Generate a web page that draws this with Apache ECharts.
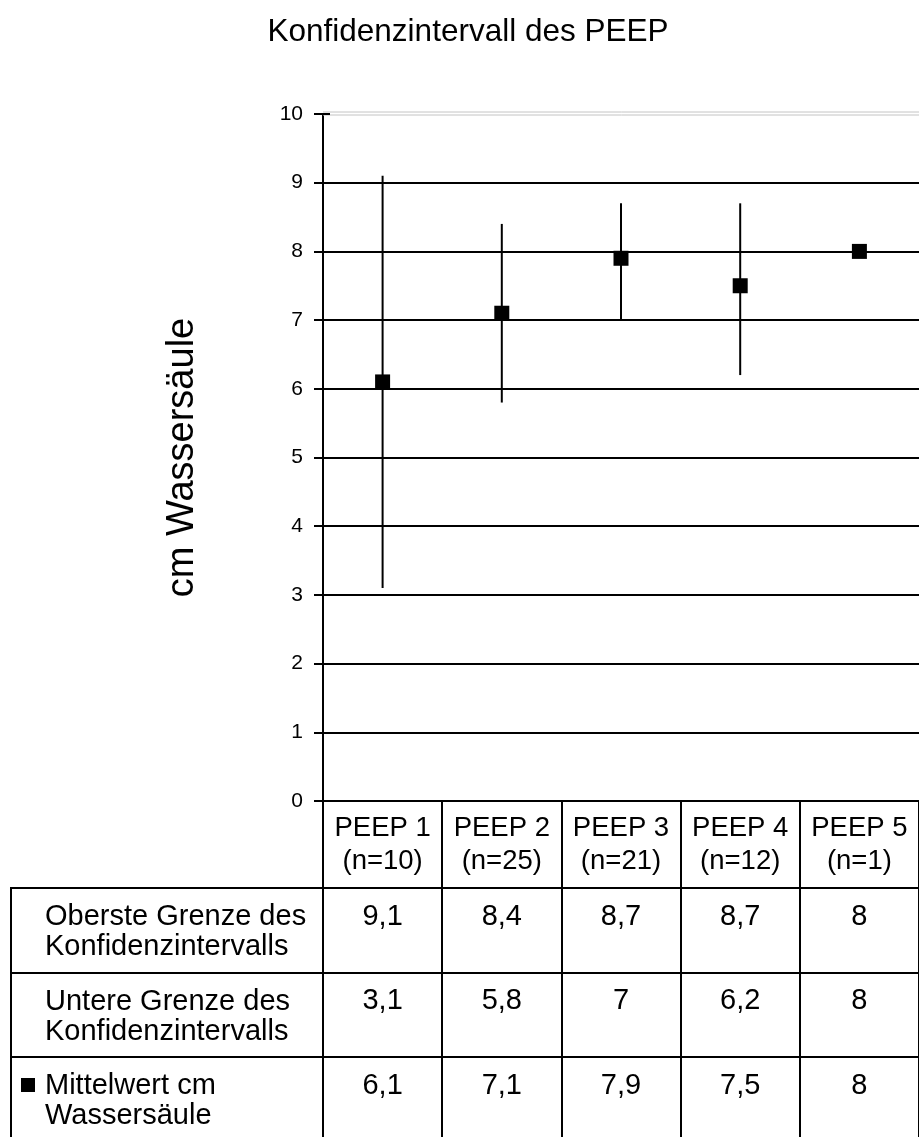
<!DOCTYPE html>
<html>
<head>
<meta charset="utf-8">
<script src="https://cdn.jsdelivr.net/npm/echarts@6/dist/echarts.min.js"></script>
<style>
  html, body { margin: 0; padding: 0; background: #fff; }
  #chart { width: 919px; height: 1137px; }
</style>
</head>
<body>
<div id="chart"></div>
<script>
// PEEP groups and sample sizes
const categories = ['PEEP 1', 'PEEP 2', 'PEEP 3', 'PEEP 4', 'PEEP 5'];
const sampleSizes = [10, 25, 21, 12, 1];

// Confidence interval bounds and means (cm H2O)
const upperBound = [9.1, 8.4, 8.7, 8.7, 8];
const lowerBound = [3.1, 5.8, 7, 6.2, 8];
const meanValues = [6.1, 7.1, 7.9, 7.5, 8];

// Y axis ticks
const yTicks = [0, 1, 2, 3, 4, 5, 6, 7, 8, 9, 10];

// Data table rows
const tableRows = [
  { label: 'Oberste Grenze des\nKonfidenzintervalls', values: upperBound, key: false },
  { label: 'Untere Grenze des\nKonfidenzintervalls', values: lowerBound, key: false },
  { label: 'Mittelwert cm\nWassersäule', values: meanValues, key: true }
];

const FONT = '"Liberation Sans", Arial, sans-serif';
const fmt = v => String(v).replace('.', ',');

const chart = echarts.init(document.getElementById('chart'), null, { renderer: 'canvas' });

const gridTop = 114, gridHeight = 687, gridLeft = 323, gridWidth = 600;
const tableTop = 888, rowHeight = 84.5, tableLeft = 10;

const splitColors = yTicks.map((t, i) => i === yTicks.length - 1 ? 'rgba(0,0,0,0)' : '#000');

chart.setOption({
  animation: false,
  backgroundColor: '#fff',
  textStyle: { fontFamily: FONT, color: '#000' },
  title: {
    text: 'Konfidenzintervall des PEEP',
    left: 463,
    textAlign: 'center',
    top: 11,
    textStyle: { fontFamily: FONT, fontSize: 31.5, fontWeight: 'normal', color: '#000' }
  },
  grid: { left: gridLeft, top: gridTop, width: gridWidth, height: gridHeight, containLabel: false },
  xAxis: {
    type: 'category',
    data: categories.map((c, i) => c + '\n(n=' + sampleSizes[i] + ')'),
    boundaryGap: true,
    axisLine: { lineStyle: { color: '#000', width: 2 } },
    axisTick: { show: true, interval: 0, alignWithLabel: false, length: 1137 - (gridTop + gridHeight) + 10,
                lineStyle: { color: '#000', width: 2 } },
    axisLabel: { interval: 0, fontFamily: FONT, fontSize: 27.5, lineHeight: 33, color: '#000', margin: 11 },
    splitLine: { show: false }
  },
  yAxis: {
    type: 'value',
    min: 0, max: 10, interval: 1,
    name: 'cm Wassersäule',
    nameLocation: 'middle',
    nameGap: 121,
    nameRotate: 90,
    nameTextStyle: { fontFamily: FONT, fontSize: 38, color: '#000' },
    axisLine: { show: true, lineStyle: { color: '#000', width: 2 } },
    axisTick: { show: true, length: 9, lineStyle: { color: '#000', width: 2 } },
    axisLabel: { fontFamily: FONT, fontSize: 21, color: '#000', margin: 20 },
    splitLine: { show: true, lineStyle: { color: splitColors, width: 2 } }
  },
  series: [
    {
      type: 'custom',
      name: 'Konfidenzintervall',
      data: categories.map((c, i) => [i, lowerBound[i], upperBound[i]]),
      encode: { x: 0, y: [1, 2] },
      z: 3,
      renderItem: function (params, api) {
        const lo = api.coord([api.value(0), api.value(1)]);
        const hi = api.coord([api.value(0), api.value(2)]);
        return {
          type: 'line',
          shape: { x1: lo[0], y1: lo[1], x2: hi[0], y2: hi[1] },
          style: { stroke: '#000', lineWidth: 2 }
        };
      }
    },
    {
      type: 'scatter',
      name: 'Mittelwert cm Wassersäule',
      data: meanValues,
      symbol: 'rect',
      symbolSize: 15,
      z: 4,
      itemStyle: { color: '#000', opacity: 1 }
    }
  ]
});

// Upper plot border, data table lines and text
function buildGraphics() {
  const g = [];
  const yTop = chart.convertToPixel({ yAxisIndex: 0 }, 10);
  const xRight = gridLeft + gridWidth;
  [yTop - 2, yTop + 1].forEach(y => g.push({
    type: 'line', shape: { x1: gridLeft, y1: y, x2: xRight, y2: y },
    style: { stroke: '#c4c4c4', lineWidth: 1 }, z: 5
  }));
  // tick at the top crosses the axis
  g.push({ type: 'line', shape: { x1: gridLeft - 9, y1: yTop, x2: gridLeft + 7, y2: yTop },
           style: { stroke: '#000', lineWidth: 2 }, z: 6 });

  // table horizontal rules
  tableRows.forEach((row, r) => {
    const y = Math.round(tableTop + r * rowHeight);
    g.push({ type: 'line', shape: { x1: tableLeft, y1: y, x2: xRight, y2: y },
             style: { stroke: '#000', lineWidth: 2 }, z: 5 });
  });
  // left border of label column
  g.push({ type: 'line', shape: { x1: tableLeft + 1, y1: tableTop, x2: tableLeft + 1, y2: 1150 },
           style: { stroke: '#000', lineWidth: 2 }, z: 5 });

  tableRows.forEach((row, r) => {
    const top = tableTop + r * rowHeight;
    g.push({
      type: 'text', left: 45, top: top + 14, z: 6,
      style: { text: row.label, font: '29px ' + FONT, fill: '#000', lineHeight: 30 }
    });
    if (row.key) {
      g.push({ type: 'rect', shape: { x: 21, y: top + 21, width: 14, height: 14 },
               style: { fill: '#000' }, z: 6 });
    }
    row.values.forEach((v, i) => {
      const cx = chart.convertToPixel({ xAxisIndex: 0 }, i);
      g.push({
        type: 'text', x: cx, y: top + 14, z: 6,
        style: { text: fmt(v), font: '29px ' + FONT, fill: '#000', textAlign: 'center', textVerticalAlign: 'top' }
      });
    });
  });
  chart.setOption({ graphic: g });
}
buildGraphics();
</script>
</body>
</html>
